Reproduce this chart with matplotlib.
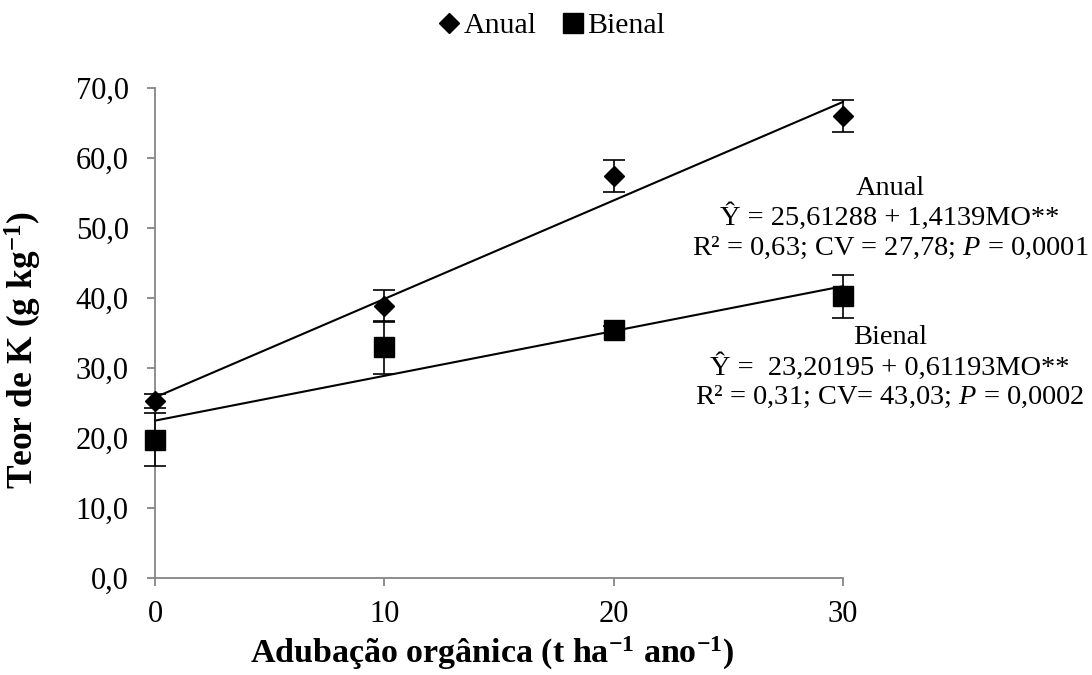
import numpy as np
import matplotlib
matplotlib.use('Agg')
import matplotlib.pyplot as plt

# Fonte tipo Times
plt.rcParams['font.family'] = ['Liberation Serif', 'DejaVu Serif']
plt.rcParams['mathtext.fontset'] = 'custom'
plt.rcParams['mathtext.rm'] = 'Liberation Serif'
plt.rcParams['mathtext.it'] = 'Liberation Serif:italic'
plt.rcParams['mathtext.bf'] = 'Liberation Serif:bold'

# Dados
doses = [0, 10, 20, 30]
anual = [25.3, 38.8, 57.4, 66.0]
anual_err = [1.0, 2.3, 2.3, 2.3]
bienal = [19.7, 32.9, 35.4, 40.2]
bienal_err = [3.8, 3.8, 0.5, 3.1]
y_ticks = [0, 10, 20, 30, 40, 50, 60, 70]
x_ticks = [0, 10, 20, 30]

eq_anual = "Anual\nŶ = 25,61288 + 1,4139MO**\nR² = 0,63; CV = 27,78; $\\it{P}$ = 0,0001"
eq_bienal = "Bienal\nŶ =  23,20195 + 0,61193MO**\nR² = 0,31; CV= 43,03; $\\it{P}$ = 0,0002"

fig = plt.figure(figsize=(10.92, 6.75), dpi=100)
ax = fig.add_axes([0.142, 0.144, 0.630, 0.726])

gray = '#868686'
fs = 22

# linhas de tendência (ajuste linear das médias)
xx = np.array([min(doses), max(doses)])
for ys in (anual, bienal):
    b, a = np.polyfit(doses, ys, 1)
    ax.plot(xx, a + b * xx, color='black', lw=1.5, zorder=2, clip_on=False)

ax.errorbar(doses, anual, yerr=anual_err, fmt='D', color='black', ms=10,
            ecolor='black', elinewidth=1.2, capsize=8, capthick=1.2,
            label='Anual', zorder=3, clip_on=False)
ax.errorbar(doses, bienal, yerr=bienal_err, fmt='s', color='black', ms=14,
            ecolor='black', elinewidth=1.2, capsize=8, capthick=1.2,
            label='Bienal', zorder=3, clip_on=False)

ax.set_xlim(0, 30)
ax.set_ylim(0, 70)
ax.set_xticks(x_ticks)
ax.set_xticklabels([str(v) for v in x_ticks], fontsize=fs)
ax.set_yticks(y_ticks)
ax.set_yticklabels([f'{v:.1f}'.replace('.', ',') for v in y_ticks], fontsize=fs)

for s in ['top', 'right']:
    ax.spines[s].set_visible(False)
for s in ['left', 'bottom']:
    ax.spines[s].set_color(gray)
    ax.spines[s].set_linewidth(1.3)
ax.tick_params(axis='both', colors=gray, labelcolor='black', length=6, width=1.3,
               direction='out')
ax.tick_params(axis='x', pad=10)
ax.tick_params(axis='y', pad=13)

ax.set_xlabel('Adubação orgânica (t ha$^{\\mathbf{-1}}$ ano$^{\\mathbf{-1}}$)',
              fontsize=24.5, fontweight='bold')
ax.xaxis.set_label_coords(0.49, -0.117)
ax.set_ylabel('Teor de K (g kg$^{\\mathbf{-1}}$)', fontsize=25.5, fontweight='bold')
ax.yaxis.set_label_coords(-0.161, 0.465)

# equações
fig.text(0.815, 0.677, eq_anual, ha='center', va='center', fontsize=20.4,
         linespacing=1.15)
fig.text(0.815, 0.455, eq_bienal, ha='center', va='center', fontsize=20.4,
         linespacing=1.15)

handles, labels = ax.get_legend_handles_labels()
handles = [h[0] for h in handles]
fig.legend(handles, labels, loc='center', bbox_to_anchor=(0.502, 0.962), ncol=2,
           frameon=False, fontsize=21.5, handletextpad=-0.1, columnspacing=0.6,
           handlelength=1.2)

fig.savefig('out.png', dpi=100, facecolor='white')
